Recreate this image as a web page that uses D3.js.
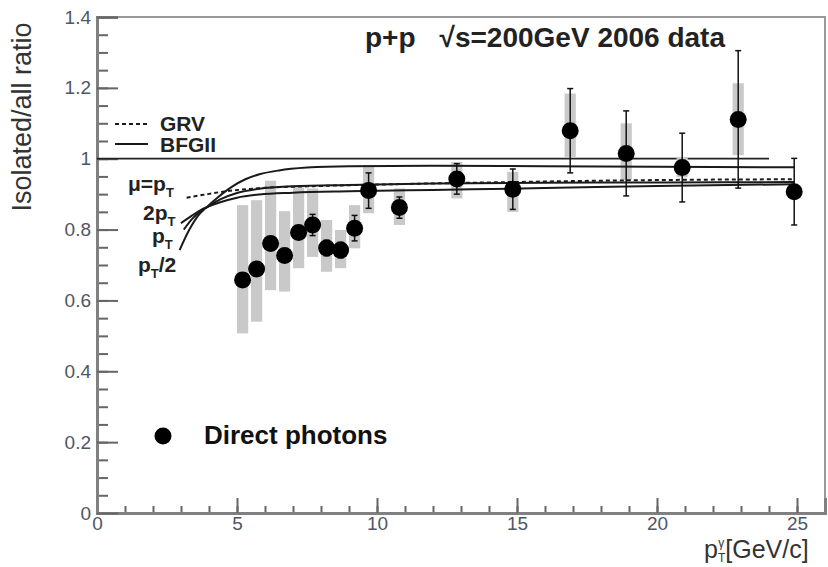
<!DOCTYPE html>
<html>
<head>
<meta charset="utf-8">
<script src="https://cdn.jsdelivr.net/npm/d3@7"></script>
<style>
body { margin: 0; background: #fff; }
svg { font-family: "Liberation Sans", Arial, sans-serif; }
</style>
</head>
<body>
<div id="chart"></div>
<script>
// direct photon isolated/all ratio, p+p 200 GeV
var pt = [5.2, 5.7, 6.2, 6.7, 7.2, 7.7, 8.2, 8.7, 9.2, 9.7, 10.8, 12.85, 14.85, 16.9, 18.9, 20.9, 22.9, 24.9]
var ratio = [0.658, 0.689, 0.761, 0.727, 0.792, 0.813, 0.748, 0.742, 0.804, 0.910, 0.862, 0.943, 0.914, 1.079, 1.015, 0.975, 1.111, 0.907]
var statErr = [0.012, 0.012, 0.012, 0.012, 0.015, 0.03, 0.022, 0.022, 0.036, 0.05, 0.03, 0.043, 0.057, 0.119, 0.12, 0.097, 0.194, 0.094]
var sysHigh = [0.869, 0.883, 0.938, 0.852, 0.919, 0.916, 0.827, 0.799, 0.869, 0.982, 0.916, 0.991, 0.963, 1.184, 1.10, 1.005, 1.213, 0.907]
var sysLow = [0.507, 0.540, 0.629, 0.625, 0.691, 0.723, 0.681, 0.691, 0.747, 0.846, 0.813, 0.888, 0.850, 1.005, 0.94, 0.948, 1.010, 0.907]

// theory curves [pT, ratio]
var bfgHalf = [[2.95,0.742],[3.3,0.80],[3.6,0.838],[3.9,0.862],[4.3,0.89],[4.8,0.92],[5.3,0.942],[5.8,0.956],[6.5,0.967],[7.5,0.975],[9,0.979],[12,0.98],[16,0.979],[20,0.977],[24.9,0.976]]
var bfgOne = [[3.1,0.80],[3.4,0.83],[3.7,0.852],[3.95,0.864],[4.4,0.885],[5,0.903],[5.8,0.915],[7,0.922],[9,0.926],[12,0.93],[16,0.932],[20,0.933],[24.9,0.934]]
var bfgTwo = [[3.0,0.818],[3.4,0.84],[3.7,0.855],[3.95,0.864],[4.4,0.877],[5,0.89],[5.8,0.899],[7,0.904],[9,0.908],[12,0.912],[16,0.917],[20,0.923],[24.9,0.928]]
var grv = [[3.2,0.89],[3.8,0.898],[4.5,0.907],[5.2,0.913],[6,0.918],[7.5,0.922],[10,0.927],[14,0.933],[18,0.938],[22,0.941],[24.9,0.942]]
var unity = [[0,1],[24,1]]

var xTicks = [0, 5, 10, 15, 20, 25]
var yTicks = [0, 0.2, 0.4, 0.6, 0.8, 1, 1.2, 1.4]
var yLabels = ['0', '0.2', '0.4', '0.6', '0.8', '1', '1.2', '1.4']

var svg = d3.select('#chart')
    .append('svg')
    .attr('width', 828)
    .attr('height', 567)

var x = d3.scaleLinear().domain([0, 26]).range([97, 825])
var y = d3.scaleLinear().domain([0, 1.4]).range([513, 17])

// frame
svg.append('rect')
    .attr('x', x(0)).attr('y', y(1.4))
    .attr('width', x(26) - x(0)).attr('height', y(0) - y(1.4))
    .attr('fill', 'none').attr('stroke', '#999').attr('stroke-width', 2)

// axes
var xMinor = svg.append('g').attr('transform', 'translate(0,' + y(0) + ')')
    .call(d3.axisBottom(x).tickValues(d3.range(0, 26, 1)).tickSize(-7).tickFormat(''))
var xMajor = svg.append('g').attr('transform', 'translate(0,' + y(0) + ')')
    .call(d3.axisBottom(x).tickValues(xTicks).tickSize(-15).tickPadding(3).tickFormat(d3.format('d')))
var yMinor = svg.append('g').attr('transform', 'translate(' + x(0) + ',0)')
    .call(d3.axisLeft(y).tickValues(d3.range(0, 1.401, 0.05)).tickSize(-11).tickFormat(''))
var yMajor = svg.append('g').attr('transform', 'translate(' + x(0) + ',0)')
    .call(d3.axisLeft(y).tickValues(yTicks).tickSize(-21).tickPadding(6).tickFormat(function(d, i){ return yLabels[i] }))

svg.selectAll('.tick line').attr('stroke', '#666').attr('stroke-width', 2)
svg.selectAll('.domain').attr('stroke', '#808080').attr('stroke-width', 3)
svg.selectAll('.tick text').attr('fill', '#4f5566').style('font-size', '19px')
xMajor.selectAll('.tick text').attr('dy', '0.75em')

var line = d3.line().x(function(d){ return x(d[0]) }).y(function(d){ return y(d[1]) })
var curve = d3.line().curve(d3.curveMonotoneX).x(function(d){ return x(d[0]) }).y(function(d){ return y(d[1]) })

// unity line
svg.append('path').attr('d', line(unity))
    .attr('fill', 'none').attr('stroke', '#222').attr('stroke-width', 1.8)

// systematic boxes
svg.selectAll('rect.sys')
    .data(pt)
    .enter().append('rect')
    .attr('class', 'sys')
    .attr('x', function(d){ return x(d - 0.2) })
    .attr('width', x(0.4) - x(0))
    .attr('y', function(d, i){ return y(sysHigh[i]) })
    .attr('height', function(d, i){ return y(sysLow[i]) - y(sysHigh[i]) })
    .attr('fill', '#c9c9c9')

// theory curves
;[bfgHalf, bfgOne, bfgTwo].forEach(function(c){
    svg.append('path').attr('d', curve(c))
        .attr('fill', 'none').attr('stroke', '#1a1a1a').attr('stroke-width', 2)
})
svg.append('path').attr('d', curve(grv))
    .attr('fill', 'none').attr('stroke', '#1a1a1a').attr('stroke-width', 2)
    .attr('stroke-dasharray', '4,3')

// error bars
var eb = svg.selectAll('g.eb').data(pt).enter().append('g').attr('class', 'eb')
eb.append('line')
    .attr('x1', function(d){ return x(d) }).attr('x2', function(d){ return x(d) })
    .attr('y1', function(d, i){ return y(ratio[i] + statErr[i]) })
    .attr('y2', function(d, i){ return y(ratio[i] - statErr[i]) })
    .attr('stroke', '#111').attr('stroke-width', 1.5)
eb.append('line')
    .attr('x1', function(d){ return x(d) - 3 }).attr('x2', function(d){ return x(d) + 3 })
    .attr('y1', function(d, i){ return y(ratio[i] + statErr[i]) })
    .attr('y2', function(d, i){ return y(ratio[i] + statErr[i]) })
    .attr('stroke', '#111').attr('stroke-width', 1.5)
eb.append('line')
    .attr('x1', function(d){ return x(d) - 3 }).attr('x2', function(d){ return x(d) + 3 })
    .attr('y1', function(d, i){ return y(ratio[i] - statErr[i]) })
    .attr('y2', function(d, i){ return y(ratio[i] - statErr[i]) })
    .attr('stroke', '#111').attr('stroke-width', 1.5)

// points
svg.selectAll('circle.pt')
    .data(pt)
    .enter().append('circle')
    .attr('class', 'pt')
    .attr('cx', function(d){ return x(d) })
    .attr('cy', function(d, i){ return y(ratio[i]) })
    .attr('r', 8.5)
    .attr('fill', '#000')

// axis titles
svg.append('text')
    .attr('transform', 'translate(31,117) rotate(-90)')
    .attr('text-anchor', 'middle')
    .style('font-size', '27px')
    .attr('fill', '#333')
    .text('Isolated/all ratio')

var xt = svg.append('text').attr('x', 704).attr('y', 558).style('font-size', '25px').attr('fill', '#333')
xt.append('tspan').text('p')
xt.append('tspan').style('font-size', '12px').attr('dy', 4).text('T')
xt.append('tspan').style('font-size', '12px').attr('dx', -7).attr('dy', -15).text('γ')
xt.append('tspan').attr('dx', 1).attr('dy', 11).text('[GeV/c]')

// title
var title = svg.append('text').attr('x', 365).attr('y', 47)
    .style('font-size', '28px').style('font-weight', 'bold').attr('fill', '#222')
title.append('tspan').text('p+p')
title.append('tspan').attr('dx', 24).text('√s=200GeV 2006 data')

// legend
svg.append('line').attr('x1', 115).attr('x2', 148).attr('y1', 124).attr('y2', 124)
    .attr('stroke', '#1a1a1a').attr('stroke-width', 2).attr('stroke-dasharray', '4,3')
svg.append('line').attr('x1', 115).attr('x2', 148).attr('y1', 144).attr('y2', 144)
    .attr('stroke', '#1a1a1a').attr('stroke-width', 2)
svg.append('text').attr('x', 160).attr('y', 131).style('font-size', '21px').style('font-weight', 'bold').attr('fill', '#222').text('GRV')
svg.append('text').attr('x', 160).attr('y', 152).style('font-size', '21px').style('font-weight', 'bold').attr('fill', '#222').text('BFGII')

svg.append('circle').attr('cx', 163).attr('cy', 436).attr('r', 8.5).attr('fill', '#000')
svg.append('text').attr('x', 204).attr('y', 444).style('font-size', '26px').style('font-weight', 'bold').attr('fill', '#111').text('Direct photons')

// scale labels next to curves
function sublabel(px, py, before, after){
    var t = svg.append('text').attr('x', px).attr('y', py)
        .style('font-size', '21px').style('font-weight', 'bold').attr('fill', '#222')
    t.append('tspan').text(before)
    t.append('tspan').style('font-size', '13px').attr('dy', 6).text('T')
    if(after){ t.append('tspan').attr('dy', -6).text(after) }
}
sublabel(128, 191, 'μ=p')
sublabel(143, 220, '2p')
sublabel(152, 243, 'p')
sublabel(138, 272, 'p', '/2')
</script>
</body>
</html>
